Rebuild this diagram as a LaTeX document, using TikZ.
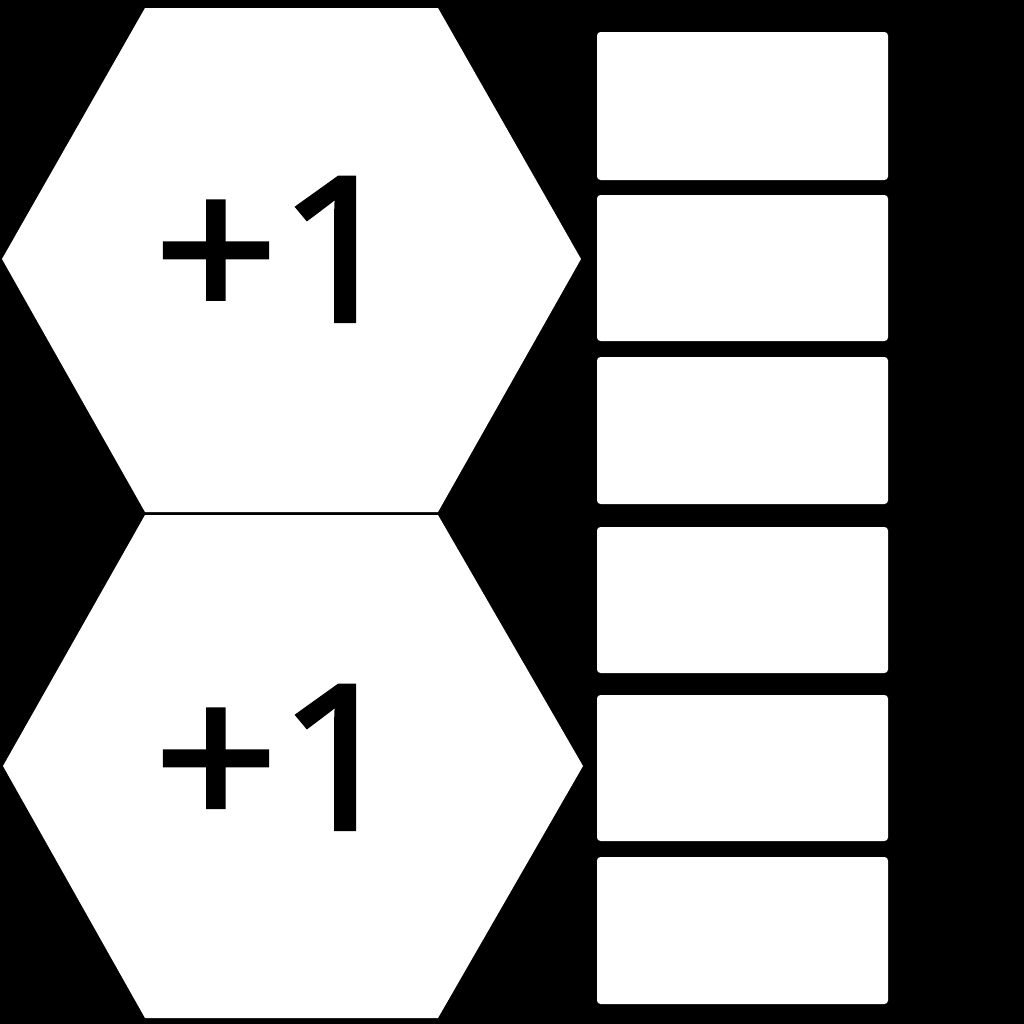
\documentclass[tikz,border=0pt]{standalone}
\usepackage{fontspec}
\newfontfamily\bonusfont{Open Sans}[FakeBold=2.2]
\usepackage{tikz}
\usetikzlibrary{positioning, calc}

\begin{document}
\begin{tikzpicture}[
		x=0.01cm, y=-0.01cm,
		hexfill/.style={fill=white},
		slotbox/.style={fill=white, rounded corners=1pt},
		bonus/.style={font=\bonusfont\fontsize{57}{68}\selectfont, text=black,
			inner sep=0pt, anchor=base, transform shape, xscale=1.08},
		]
		% Background
		\fill[black] (0,0) rectangle (1024,1024);
		\useasboundingbox (0,0) rectangle (1024,1024);

		% Hexagons
		\fill[hexfill] (145,8) -- (438,8) -- (581,259) -- (438,512)
			-- (145,512) -- (2,259) -- cycle;
		\fill[hexfill] (145,515) -- (438,515) -- (583,766) -- (438,1018)
			-- (145,1018) -- (3,766) -- cycle;

		% Labels
		\node[bonus] (h1) at (278,321) {+1};
		\node[bonus] (h2) at (278,829) {+1};

		% Slots
		\foreach \n/\ya/\yb in {1/32/180, 2/195/341, 3/357/504,
			4/527/673, 5/695/841, 6/857/1004} {
			\fill[slotbox] (597,\ya) rectangle (888,\yb);
		}
	\end{tikzpicture}
\end{document}
